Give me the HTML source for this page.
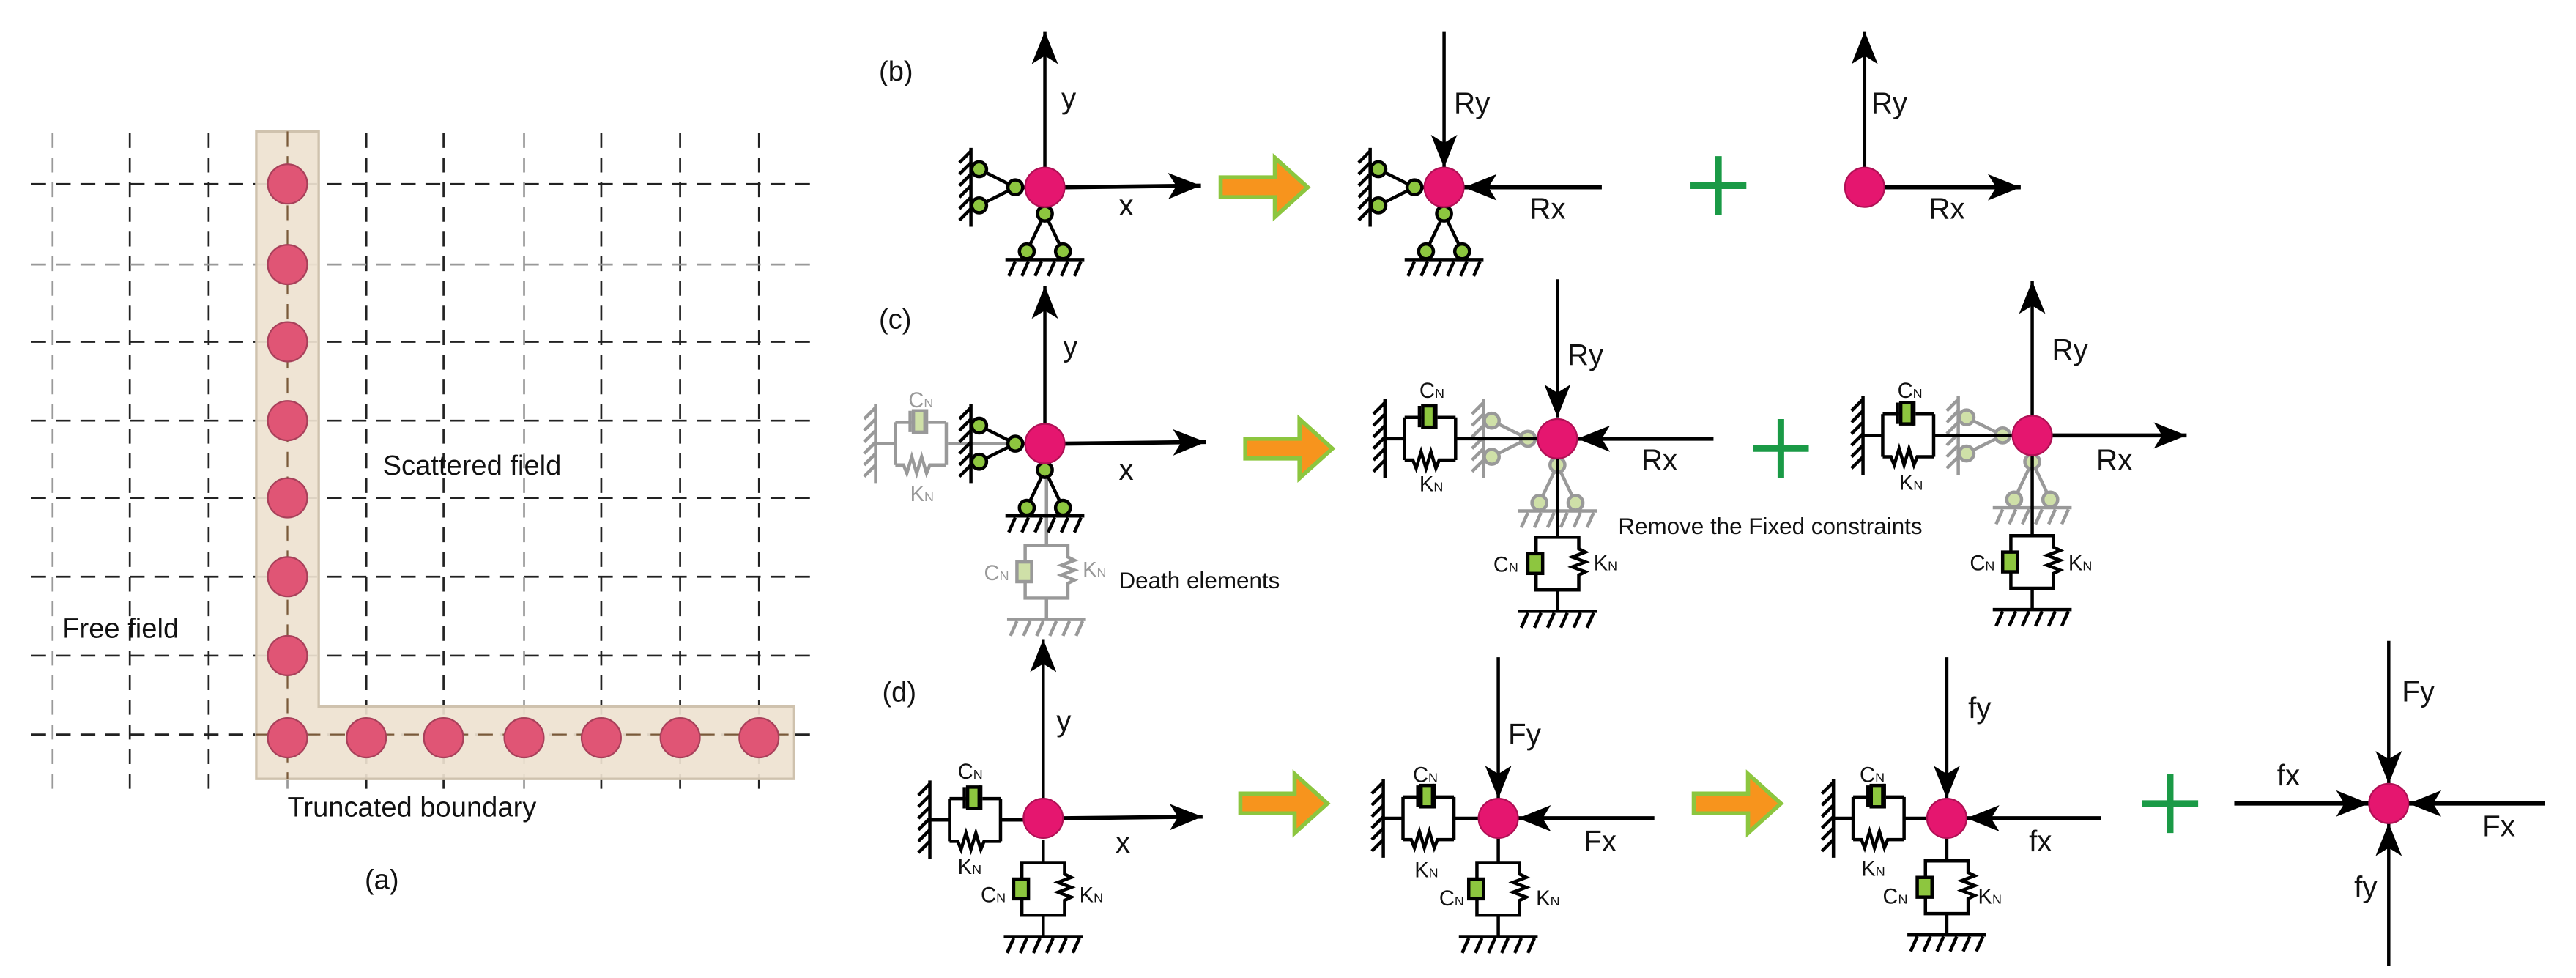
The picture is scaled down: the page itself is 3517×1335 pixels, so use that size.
<!DOCTYPE html>
<html><head><meta charset="utf-8"><style>
html,body{margin:0;padding:0;background:#fff;}
svg{display:block;}
text{font-family:"Liberation Sans",Arial,sans-serif;fill:#111;}
.n{font-family:"Liberation Sans Narrow","Liberation Sans",sans-serif;}
</style></head><body>
<svg width="3517" height="1335" viewBox="0 0 1568 595.2" preserveAspectRatio="none" xmlns="http://www.w3.org/2000/svg">
<defs>
<marker id="ah" viewBox="0 0 20 16" refX="20" refY="8" markerWidth="20" markerHeight="16" markerUnits="userSpaceOnUse" orient="auto"><path d="M0,0 L20,8 L0,16 L5,8z" fill="#000"/></marker>
<path id="wall" d="M0,-24V24 M0,-22l-7,7 M0,-15l-7,7 M0,-8l-7,7 M0,-1l-7,7 M0,6l-7,7 M0,13l-7,7" fill="none"/>
<path id="gnd" d="M-24,0H24 M-18,1l-4,9 M-10,1l-4,9 M-2,1l-4,9 M6,1l-4,9 M14,1l-4,9 M22,1l-4,9" fill="none"/>
<g id="sup">
<use href="#wall" x="-45"/>
<path d="M-40,-11L-18,0 M-40,11L-18,0 M-18,0H-12 M0,12V16 M0,16L-11,39 M0,16L11,39" fill="none"/>
<use href="#gnd" y="44"/>
<circle cx="-40" cy="-11" r="4.5" style="fill:var(--cf)"/>
<circle cx="-40" cy="11" r="4.5" style="fill:var(--cf)"/>
<circle cx="-18" cy="0" r="4.5" style="fill:var(--cf)"/>
<circle cx="0" cy="16" r="4.5" style="fill:var(--cf)"/>
<circle cx="-11" cy="39" r="4.5" style="fill:var(--cf)"/>
<circle cx="11" cy="39" r="4.5" style="fill:var(--cf)"/>
</g>
<g id="ssd">
<use href="#wall"/>
<path d="M0,0H12 M12,-13V13 M43,-13V13 M12,-13H22 M32,-13H43 M12,13H17 l2,5 l3,-10 l3,10 l3,-10 l3,10 l2,-5 H43" fill="none"/>
<rect x="23" y="-20" width="7" height="13" style="fill:var(--df)"/>
<path d="M21,-20V-7 M31,-21V-6" fill="none"/>
</g>
<g id="vsd">
<path d="M-13,10V0H13V7 l4,2 l-8,3 l8,3 l-8,3 l8,3 l-4,2 V32 H-13 V22 M0,32V45" fill="none"/>
<rect x="-18" y="10" width="9" height="12" style="fill:var(--df)"/>
<use href="#gnd" y="45"/>
</g>
<g id="oar"><polygon points="0,-6 33,-6 33,-18 53,0 33,18 33,6 0,6" fill="#f7941d" stroke="#8cc63f" stroke-width="2.5"/></g>
<g id="plus"><path d="M-17,0H17 M0,-18V18" stroke="#1a9a46" stroke-width="4"/></g>
</defs>

<!-- Panel (a) -->
<g stroke-width="1.2" stroke-dasharray="9,6" fill="none">
<g stroke="#222">
<line x1="19" y1="112" x2="494" y2="112"/><line x1="19" y1="208" x2="494" y2="208"/>
<line x1="19" y1="256" x2="494" y2="256"/><line x1="19" y1="303" x2="494" y2="303"/>
<line x1="19" y1="351" x2="494" y2="351"/><line x1="19" y1="399" x2="494" y2="399"/>
<line x1="19" y1="447" x2="494" y2="447"/>
<line x1="79" y1="81" x2="79" y2="484"/><line x1="127" y1="81" x2="127" y2="484"/>
<line x1="223" y1="81" x2="223" y2="484"/><line x1="270" y1="81" x2="270" y2="484"/>
<line x1="366" y1="81" x2="366" y2="484"/><line x1="414" y1="81" x2="414" y2="484"/>
<line x1="462" y1="81" x2="462" y2="484"/>
</g>
<g stroke="#999">
<line x1="19" y1="161" x2="494" y2="161"/>
<line x1="32" y1="81" x2="32" y2="484"/><line x1="175" y1="81" x2="175" y2="484"/>
<line x1="319" y1="81" x2="319" y2="484"/>
</g>
</g>
<path d="M156,80H194V430H483V474H156Z" fill="#eee2d0" fill-opacity="0.92" stroke="#cfc2ae" stroke-width="1.5"/>
<g stroke="#7a5a3a" stroke-width="1" stroke-dasharray="9,6">
<line x1="175" y1="80" x2="175" y2="474"/><line x1="156" y1="447" x2="483" y2="447"/>
</g>
<g fill="#e05575" stroke="#a8405a" stroke-width="1">
<circle cx="175" cy="112" r="12"/><circle cx="175" cy="161" r="12"/><circle cx="175" cy="208" r="12"/>
<circle cx="175" cy="256" r="12"/><circle cx="175" cy="303" r="12"/><circle cx="175" cy="351" r="12"/>
<circle cx="175" cy="399" r="12"/><circle cx="175" cy="449" r="12"/><circle cx="223" cy="449" r="12"/>
<circle cx="270" cy="449" r="12"/><circle cx="319" cy="449" r="12"/><circle cx="366" cy="449" r="12"/>
<circle cx="414" cy="449" r="12"/><circle cx="462" cy="449" r="12"/>
</g>
<text x="233" y="289" font-size="17">Scattered field</text>
<text x="38" y="388" font-size="17">Free field</text>
<text x="175" y="497" font-size="17">Truncated boundary</text>
<text x="222" y="541" font-size="17">(a)</text>

<!-- common styles -->
<g stroke="#000" stroke-width="2" fill="none" style="--cf:#8dc63f;--df:#8dc63f">

<!-- (b) -->
<line x1="636" y1="102" x2="636" y2="19" marker-end="url(#ah)"/>
<line x1="648" y1="114" x2="731" y2="113" marker-end="url(#ah)" stroke-width="2.5"/>
<use href="#sup" x="636" y="114"/>
<line x1="879" y1="19" x2="879" y2="102" marker-end="url(#ah)"/>
<line x1="975" y1="114" x2="891" y2="114" marker-end="url(#ah)" stroke-width="2.5"/>
<use href="#sup" x="879" y="114"/>
<line x1="1135" y1="102" x2="1135" y2="19" marker-end="url(#ah)"/>
<line x1="1147" y1="114" x2="1230" y2="114" marker-end="url(#ah)" stroke-width="2.5"/>

<!-- (c) node1 -->
<g stroke="#999" style="--df:#cfe0a8">
<use href="#ssd" x="533" y="270"/>
<line x1="577" y1="270" x2="624" y2="270"/>
<line x1="637" y1="282" x2="637" y2="332"/>
<use href="#vsd" x="637" y="332"/>
</g>
<line x1="636" y1="258" x2="636" y2="174" marker-end="url(#ah)"/>
<line x1="648" y1="270" x2="734" y2="269" marker-end="url(#ah)" stroke-width="2.5"/>
<use href="#sup" x="636" y="270"/>

<!-- (c) node2 -->
<g stroke="#999" style="--cf:#cfe0a8"><use href="#sup" x="948" y="267"/></g>
<use href="#ssd" x="843" y="267"/>
<line x1="886" y1="267" x2="936" y2="267"/>
<line x1="948" y1="279" x2="948" y2="327"/>
<use href="#vsd" x="948" y="327"/>
<line x1="948" y1="170" x2="948" y2="254" marker-end="url(#ah)"/>
<line x1="1043" y1="267" x2="960" y2="267" marker-end="url(#ah)" stroke-width="2.5"/>

<!-- (c) node3 -->
<g stroke="#999" style="--cf:#cfe0a8"><use href="#sup" x="1237" y="265"/></g>
<use href="#ssd" x="1134" y="265"/>
<line x1="1177" y1="265" x2="1225" y2="265"/>
<line x1="1237" y1="277" x2="1237" y2="326"/>
<use href="#vsd" x="1237" y="326"/>
<line x1="1237" y1="253" x2="1237" y2="171" marker-end="url(#ah)"/>
<line x1="1249" y1="265" x2="1331" y2="265" marker-end="url(#ah)" stroke-width="2.5"/>

<!-- (d) node1 -->
<use href="#ssd" x="566" y="499"/>
<line x1="609" y1="499" x2="623" y2="499"/>
<line x1="635" y1="511" x2="635" y2="525"/>
<use href="#vsd" x="635" y="525"/>
<line x1="635" y1="486" x2="635" y2="389" marker-end="url(#ah)"/>
<line x1="647" y1="498" x2="732" y2="497" marker-end="url(#ah)" stroke-width="2.5"/>

<!-- (d) node2 -->
<use href="#ssd" x="842" y="498"/>
<line x1="885" y1="498" x2="900" y2="498"/>
<line x1="912" y1="510" x2="912" y2="525"/>
<use href="#vsd" x="912" y="525"/>
<line x1="912" y1="400" x2="912" y2="486" marker-end="url(#ah)"/>
<line x1="1007" y1="498" x2="924" y2="498" marker-end="url(#ah)" stroke-width="2.5"/>

<!-- (d) node3 -->
<use href="#ssd" x="1116" y="498"/>
<line x1="1159" y1="498" x2="1173" y2="498"/>
<line x1="1185" y1="510" x2="1185" y2="524"/>
<use href="#vsd" x="1185" y="524"/>
<line x1="1185" y1="400" x2="1185" y2="486" marker-end="url(#ah)"/>
<line x1="1279" y1="498" x2="1197" y2="498" marker-end="url(#ah)" stroke-width="2.5"/>

<!-- (d) node4 -->
<line x1="1454" y1="390" x2="1454" y2="477" marker-end="url(#ah)"/>
<line x1="1454" y1="588" x2="1454" y2="501" marker-end="url(#ah)"/>
<line x1="1360" y1="489" x2="1442" y2="489" marker-end="url(#ah)" stroke-width="2.5"/>
<line x1="1549" y1="489" x2="1466" y2="489" marker-end="url(#ah)" stroke-width="2.5"/>
</g>

<!-- nodes -->
<g fill="#e5166f" stroke="#b01055" stroke-width="1">
<circle cx="636" cy="114" r="12"/><circle cx="879" cy="114" r="12"/><circle cx="1135" cy="114" r="12"/>
<circle cx="636" cy="270" r="12"/><circle cx="948" cy="267" r="12"/><circle cx="1237" cy="265" r="12"/>
<circle cx="635" cy="498" r="12"/><circle cx="912" cy="498" r="12"/><circle cx="1185" cy="498" r="12"/>
<circle cx="1454" cy="489" r="12"/>
</g>

<!-- arrows and plus -->
<use href="#oar" x="743" y="114"/><use href="#oar" x="758" y="273"/>
<use href="#oar" x="755" y="489"/><use href="#oar" x="1031" y="489"/>
<use href="#plus" x="1046" y="113"/><use href="#plus" x="1084" y="273"/><use href="#plus" x="1321" y="489"/>

<!-- labels -->
<g class="n" font-size="18">
<text class="n" x="535" y="49" font-size="17">(b)</text>
<text class="n" x="535" y="200" font-size="17">(c)</text>
<text class="n" x="537" y="427" font-size="17">(d)</text>
<text class="n" x="646" y="66">y</text><text class="n" x="681" y="131">x</text>
<text class="n" x="885" y="69">Ry</text><text class="n" x="931" y="133">Rx</text>
<text class="n" x="1139" y="69">Ry</text><text class="n" x="1174" y="133">Rx</text>
<text class="n" x="647" y="217">y</text><text class="n" x="681" y="292">x</text>
<text class="n" x="954" y="222">Ry</text><text class="n" x="999" y="286">Rx</text>
<text class="n" x="1249" y="219">Ry</text><text class="n" x="1276" y="286">Rx</text>
<text class="n" x="643" y="445">y</text><text class="n" x="679" y="519">x</text>
<text class="n" x="918" y="453">Fy</text><text class="n" x="964" y="518">Fx</text>
<text class="n" x="1198" y="437">fy</text><text class="n" x="1235" y="518">fx</text>
<text class="n" x="1462" y="427">Fy</text><text class="n" x="1386" y="478">fx</text>
<text class="n" x="1511" y="509">Fx</text><text class="n" x="1433" y="546">fy</text>
</g>
<text x="681" y="358" font-size="14" class="n">Death elements</text>
<text x="985" y="325" font-size="14" class="n">Remove the Fixed constraints</text>

<g font-size="13">
<text class="n" x="553" y="248" style="fill:#999">C<tspan font-size="8">N</tspan></text>
<text class="n" x="554" y="305" style="fill:#999">K<tspan font-size="8">N</tspan></text>
<text class="n" x="599" y="353" style="fill:#999">C<tspan font-size="8">N</tspan></text>
<text class="n" x="659" y="351" style="fill:#999">K<tspan font-size="8">N</tspan></text>
<text class="n" x="864" y="242">C<tspan font-size="8">N</tspan></text>
<text class="n" x="864" y="299">K<tspan font-size="8">N</tspan></text>
<text class="n" x="909" y="348">C<tspan font-size="8">N</tspan></text>
<text class="n" x="970" y="347">K<tspan font-size="8">N</tspan></text>
<text class="n" x="1155" y="242">C<tspan font-size="8">N</tspan></text>
<text class="n" x="1156" y="298">K<tspan font-size="8">N</tspan></text>
<text class="n" x="1199" y="347">C<tspan font-size="8">N</tspan></text>
<text class="n" x="1259" y="347">K<tspan font-size="8">N</tspan></text>
<text class="n" x="583" y="474">C<tspan font-size="8">N</tspan></text>
<text class="n" x="583" y="532">K<tspan font-size="8">N</tspan></text>
<text class="n" x="597" y="549">C<tspan font-size="8">N</tspan></text>
<text class="n" x="657" y="549">K<tspan font-size="8">N</tspan></text>
<text class="n" x="860" y="476">C<tspan font-size="8">N</tspan></text>
<text class="n" x="861" y="534">K<tspan font-size="8">N</tspan></text>
<text class="n" x="876" y="551">C<tspan font-size="8">N</tspan></text>
<text class="n" x="935" y="551">K<tspan font-size="8">N</tspan></text>
<text class="n" x="1132" y="476">C<tspan font-size="8">N</tspan></text>
<text class="n" x="1133" y="533">K<tspan font-size="8">N</tspan></text>
<text class="n" x="1146" y="550">C<tspan font-size="8">N</tspan></text>
<text class="n" x="1204" y="550">K<tspan font-size="8">N</tspan></text>
</g>
</svg>
</body></html>
